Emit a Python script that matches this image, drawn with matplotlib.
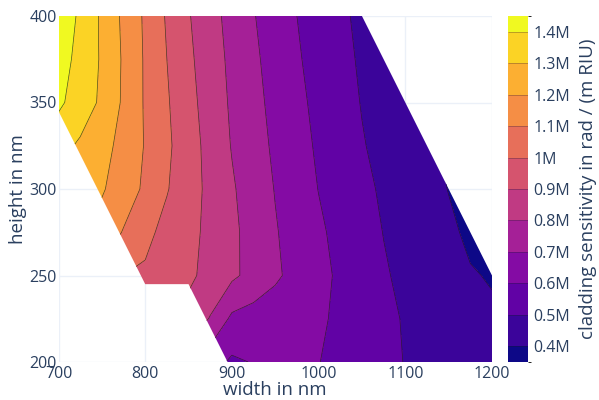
import numpy as np
import matplotlib
matplotlib.use("Agg")
import matplotlib.pyplot as plt
from matplotlib.colors import LinearSegmentedColormap, ListedColormap, BoundaryNorm
from matplotlib.patches import Polygon

plt.rcParams['font.family'] = ['Open Sans', 'DejaVu Sans']

# ---------------- data ----------------
widths = [700, 725, 750, 775, 800, 825, 850, 875, 900, 925, 950, 975, 1000,
          1025, 1050, 1075, 1100, 1125, 1150, 1175, 1200]
heights = [200, 225, 250, 275, 300, 325, 350, 375, 400]
N = np.nan
# cladding sensitivity in M rad/(m RIU); rows = heights, cols = widths
sens_200 = [N, N, N, N, N, N, 0.72, 0.64, 0.585, 0.605, 0.618, 0.615, 0.602, 0.577, 0.550, 0.523, 0.497, 0.475, 0.455, 0.44, 0.425]
sens_225 = [N, N, N, 1.00, 0.96, 0.90, 0.87, 0.794, 0.68, 0.66, 0.648, 0.635, 0.613, 0.584, 0.552, 0.521, 0.493, 0.471, 0.449, 0.427, 0.41]
sens_250 = [N, N, 1.07, 1.00, 0.986, 0.951, 0.917, 0.872, 0.819, 0.767, 0.715, 0.669, 0.626, 0.585, 0.547, 0.509, 0.481, 0.456, 0.430, 0.405, 0.395]
sens_275 = [N, 1.22, 1.16, 1.094, 1.025, 0.971, 0.927, 0.877, 0.820, 0.764, 0.707, 0.660, 0.615, 0.574, 0.535, 0.498, 0.470, 0.442, 0.413, 0.387, 0.375]
sens_300 = [1.30, 1.26, 1.210, 1.149, 1.084, 1.006, 0.941, 0.876, 0.811, 0.752, 0.696, 0.647, 0.598, 0.560, 0.522, 0.487, 0.457, 0.427, 0.398, 0.38, N]
sens_325 = [1.33, 1.287, 1.233, 1.170, 1.094, 1.018, 0.942, 0.868, 0.795, 0.739, 0.684, 0.634, 0.587, 0.547, 0.506, 0.475, 0.445, 0.415, 0.39, N, N]
sens_350 = [1.42, 1.350, 1.284, 1.185, 1.090, 1.010, 0.931, 0.856, 0.786, 0.728, 0.673, 0.622, 0.577, 0.536, 0.496, 0.466, 0.436, 0.406, N, N, N]
sens_375 = [1.44, 1.373, 1.288, 1.188, 1.089, 1.000, 0.919, 0.846, 0.778, 0.717, 0.663, 0.610, 0.567, 0.526, 0.488, 0.456, 0.423, N, N, N, N]
sens_400 = [1.45, 1.388, 1.283, 1.181, 1.085, 0.990, 0.907, 0.834, 0.768, 0.705, 0.652, 0.600, 0.558, 0.517, 0.480, 0.447, N, N, N, N, N]

# valid (width, height) domain of the simulated geometries
domain_w = [700, 700, 1050, 1200, 1200, 895, 850, 800]
domain_h = [345, 400, 400, 250, 200, 200, 245, 245]

levels = [0.35, 0.4, 0.5, 0.6, 0.7, 0.8, 0.9, 1.0, 1.1, 1.2, 1.3, 1.4, 1.45]
line_levels = [0.4, 0.5, 0.6, 0.7, 0.8, 0.9, 1.0, 1.1, 1.2, 1.3, 1.4]
cbar_ticks = [0.4, 0.5, 0.6, 0.7, 0.8, 0.9, 1.0, 1.1, 1.2, 1.3, 1.4]
cbar_ticklabels = ["0.4M", "0.5M", "0.6M", "0.7M", "0.8M", "0.9M", "1M",
                   "1.1M", "1.2M", "1.3M", "1.4M"]
x_ticks = [700, 800, 900, 1000, 1100, 1200]
y_ticks = [200, 250, 300, 350, 400]

plasma_plotly = ['#0d0887', '#46039f', '#7201a8', '#9c179e', '#bd3786',
                 '#d8576b', '#ed7953', '#fb9f3a', '#fdca26', '#f0f921']

# ---------------- figure ----------------
Z = np.ma.masked_invalid(np.array([sens_200, sens_225, sens_250, sens_275, sens_300,
                                   sens_325, sens_350, sens_375, sens_400]))
W, H = np.meshgrid(widths, heights)

base = LinearSegmentedColormap.from_list('plasma_plotly', plasma_plotly)
nb = len(levels) - 1
cmap = ListedColormap([base(i / (nb - 1)) for i in range(nb)])
norm = BoundaryNorm(levels, nb)

fig = plt.figure(figsize=(5.99, 4.0), dpi=100)
ax = fig.add_axes([58.5 / 599, 1 - 362 / 400, (492 - 58.5) / 599, 346 / 400])
txt = '#2a3f5f'

cf = ax.contourf(W, H, Z, levels=levels, cmap=cmap, norm=norm, zorder=2)
cl = ax.contour(W, H, Z, levels=line_levels, colors='#1a1a1a', linewidths=0.5,
                alpha=0.75, zorder=3)

clip = Polygon(np.column_stack([domain_w, domain_h]), closed=True,
               transform=ax.transData, facecolor='none', edgecolor='none')
ax.add_patch(clip)
cf.set_clip_path(clip)
cl.set_clip_path(clip)

ax.set_xlim(700, 1200)
ax.set_ylim(200, 400)
ax.set_xticks(x_ticks)
ax.set_yticks(y_ticks)
ax.grid(True, color='#EBF0F8', linewidth=1, zorder=0)
ax.set_axisbelow(True)
for s in ax.spines.values():
    s.set_visible(False)
ax.tick_params(length=0, labelsize=11.5, colors=txt)
ax.tick_params(axis='x', pad=3)
ax.tick_params(axis='y', pad=1)
ax.set_xlabel('width in nm', fontsize=13.5, color=txt, labelpad=-1)
ax.set_ylabel('height in nm', fontsize=13.5, color=txt, labelpad=2)

cax = fig.add_axes([508 / 599, 1 - 362 / 400, 20 / 599, 346 / 400])
cb = fig.colorbar(cf, cax=cax, spacing='proportional', ticks=cbar_ticks)
cb.set_ticklabels(cbar_ticklabels)
cb.outline.set_visible(False)
cb.add_lines(cl)
cb.lines[-1].set_alpha(0.4)
cax.tick_params(length=0, labelsize=11.5, colors=txt, pad=4)
cb.set_label('cladding sensitivity in rad / (m RIU)', fontsize=13.5, color=txt,
             labelpad=6)

fig.savefig('out.png', dpi=100)
